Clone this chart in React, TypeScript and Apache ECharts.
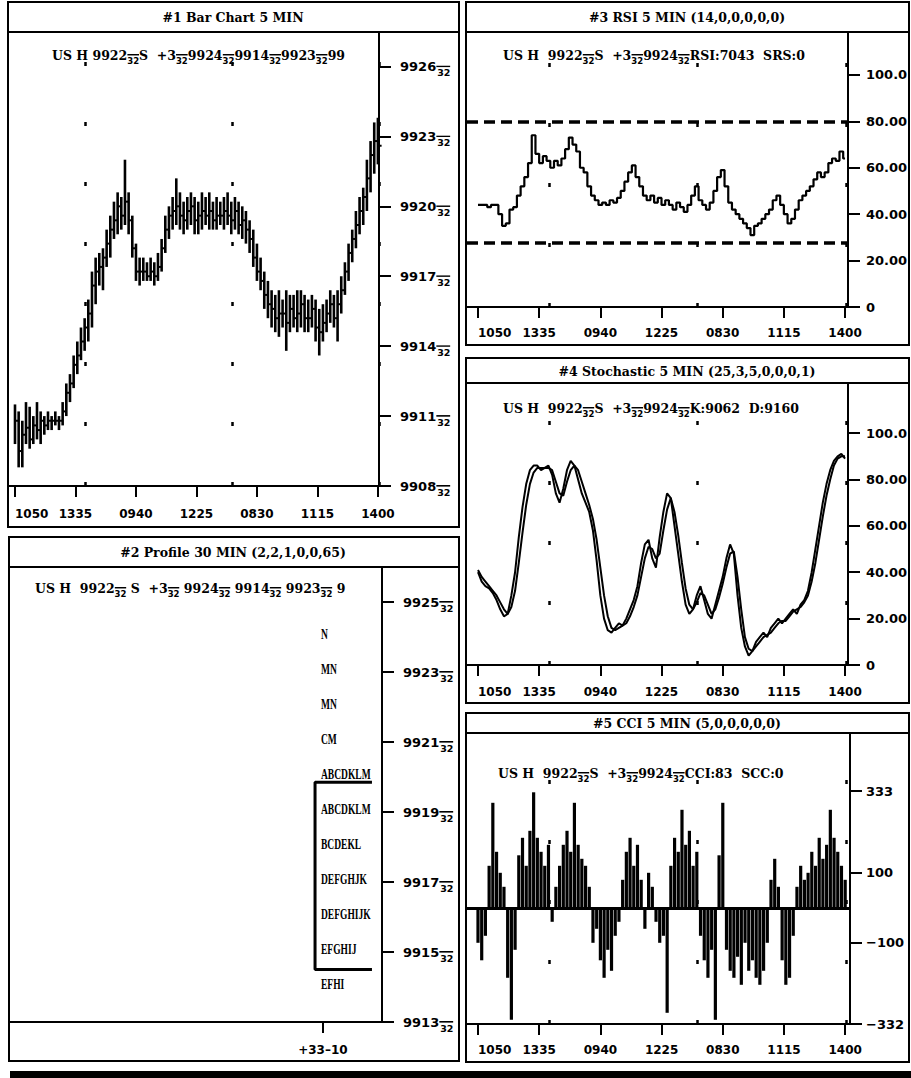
import React, { useEffect, useRef } from 'react';
import * as echarts from 'echarts';

// ---------------- data ----------------
const timeLabels = ['1050', '1335', '0940', '1225', '0830', '1115', '1400'];
const timeTicks = [0, 33, 66, 99, 132, 165, 198];
const daySeparators = [38.5, 118.5, 198.5];
const barStep = 2; // one reading per two 5-minute bars

const barHigh = [11.5,11.2,10.8,11.6,11.4,11.0,11.6,11.2,11.0,11.2, 11.0,11.2,11.0,11.6,12.4,12.8,13.6,14.2,14.8,15.2, 16.0,17.2,17.8,18.0,18.2,19.0,19.6,20.2,20.6,20.4, 22.0,20.6,19.6,18.4,17.8,17.8,17.6,17.8,17.6,18.0, 18.6,19.6,20.0,20.4,21.2,20.6,20.2,20.4,20.6,20.4, 20.2,20.6,20.4,20.6,20.2,20.4,20.2,20.4,20.6,20.2, 20.4,20.2,20.0,19.8,19.4,19.0,18.4,17.8,17.2,16.8, 16.4,16.2,16.4,16.0,16.4,16.2,16.2,16.4,16.4,16.2, 16.0,16.2,16.0,15.6,15.8,16.0,16.4,16.2,16.4,17.0, 17.6,18.4,19.0,19.8,20.4,20.8,22.0,22.8,23.6,23.8];
const barLow = [9.8,8.8,8.8,9.8,9.6,9.8,10.0,9.8,10.2,10.4, 10.4,10.6,10.4,10.6,11.0,11.6,12.2,12.8,13.4,13.8, 14.2,14.8,15.8,16.6,16.4,17.4,17.8,18.6,18.8,19.0, 19.2,18.8,17.8,16.8,16.6,16.8,16.8,16.8,16.6,16.8, 17.2,18.0,18.6,19.0,19.2,19.0,18.8,19.0,19.2,18.8, 18.8,19.0,19.2,19.0,19.0,19.0,19.2,19.0,19.2,18.8, 19.0,18.8,18.6,18.4,18.0,17.4,16.8,16.4,15.6,15.2, 14.8,14.6,14.4,14.8,13.8,14.6,14.8,14.6,14.8,14.6, 14.6,14.8,14.2,13.6,14.2,14.6,15.0,14.8,14.2,15.4, 16.2,16.8,17.6,18.2,18.8,19.2,19.8,20.6,21.4,21.8];
const barClose = [10.8,9.5,10.2,10.5,10.0,10.6,10.4,10.8,10.6,10.8, 10.8,10.8,10.8,11.2,12.0,12.4,13.2,13.6,14.2,14.8, 15.4,16.6,17.2,17.4,17.8,18.4,19.0,19.4,20.0,19.6, 20.2,19.4,18.2,17.2,17.2,17.2,17.0,17.2,17.0,17.4, 18.2,19.0,19.6,19.8,20.0,19.6,19.4,19.8,20.0,19.4, 19.6,19.8,19.6,19.8,19.4,19.6,19.6,19.8,19.6,19.4, 19.8,19.2,19.4,19.0,18.6,17.8,17.2,16.8,16.2,15.8, 15.6,15.2,15.4,15.4,15.0,15.6,15.2,15.4,15.8,15.2, 15.2,15.6,14.8,14.6,15.0,15.4,15.8,15.2,15.8,16.4, 17.2,18.0,18.6,19.2,19.8,20.4,21.2,22.2,22.8,22.6];
const priceTicks = [8, 11, 14, 17, 20, 23, 26];

const profileLevels = [24, 23, 22, 21, 20, 19, 18, 17, 16, 15, 14];
const profileLetters = ['N', 'MN', 'MN', 'CM', 'ABCDKLM', 'ABCDKLM', 'BCDEKL', 'DEFGHJK', 'DEFGHIJK', 'EFGHIJ', 'EFHI'];
const profileTicks = [13, 15, 17, 19, 21, 23, 25];
const valueAreaHigh = 19.85;
const valueAreaLow = 14.5;
const profileAxisLabel = '+33\u201310';

const rsi = [44,44,44,43,44,44,40,35,36,42, 43,48,52,56,62,74,66,62,65,63, 60,63,61,64,68,73,70,67,60,58, 52,48,46,44,45,44,46,45,47,50, 54,58,61,56,52,48,46,48,45,47, 44,46,44,42,45,43,41,44,48,52, 46,44,42,45,50,56,59,52,45,42, 40,38,36,34,31,35,36,38,40,42, 46,48,44,40,36,38,42,46,48,50, 52,55,58,56,58,62,64,63,67,64];
const rsiBands = [80, 27.5];
const oscTicks = [0, 20, 40, 60, 80, 100];
const oscTickLabels = ['0', '20.00', '40.00', '60.00', '80.00', '100.0'];

const stochK = [40,36,34,33,31,28,24,21,22,30, 40,55,68,78,84,86,86,84,85,86, 82,74,70,76,84,88,86,80,74,70, 66,58,45,30,20,15,14,16,18,17, 20,24,28,34,44,52,54,46,42,55, 66,74,72,60,48,36,26,22,24,30, 34,28,22,20,26,32,38,46,52,48, 30,16,8,4,6,10,12,14,12,16, 18,20,18,20,22,24,22,26,28,32, 40,50,60,70,78,84,88,90,91,89];
const stochD = [41,38,36,34,32,30,27,24,22,25, 32,44,57,69,78,83,85,85,85,85, 84,79,74,73,79,84,86,84,79,74, 69,63,54,42,30,21,16,15,16,17, 18,21,25,30,38,46,51,50,46,48, 58,67,72,66,56,44,33,26,24,27, 31,30,26,22,24,29,35,42,48,49, 38,24,12,7,6,8,10,12,13,14, 16,18,19,19,21,23,24,25,27,30, 36,44,54,64,73,80,86,89,90,90];

const cci = [-100,-150,-80,120,300,160,100,60,-200,-320, -120,150,200,120,220,330,200,160,120,180, -40,60,120,180,220,160,300,180,140,120, 60,-100,-60,-150,-200,-120,-180,-80,-40,80, 160,200,120,180,80,-60,100,60,-40,-100, -80,-300,120,200,160,280,180,220,120,160, -80,-150,-200,-120,-320,150,300,-120,-180,-200, -140,-220,-100,-180,-150,-200,-220,-180,-100,80, 140,60,-150,-220,-200,-80,60,120,80,100, 160,120,200,140,180,280,200,160,120,80];
const cciTicks = [-332, -100, 100, 333];
const cciTickLabels = ['\u2212332', '\u2212100', '100', '333'];

const titles = [
  '#1 Bar Chart 5 MIN',
  '#2 Profile 30 MIN (2,2,1,0,0,65)',
  '#3 RSI 5 MIN (14,0,0,0,0,0)',
  '#4 Stochastic 5 MIN (25,3,5,0,0,0,1)',
  '#5 CCI 5 MIN (5,0,0,0,0,0)',
];
const FR = '{f|32}';
const subtitles = [
  `US H 9922${FR}S  +3${FR}9924${FR}9914${FR}9923${FR}99`,
  `US H  9922${FR} S  +3${FR} 9924${FR} 9914${FR} 9923${FR} 9`,
  `US H  9922${FR}S  +3${FR}9924${FR}RSI:7043  SRS:0`,
  `US H  9922${FR}S  +3${FR}9924${FR}K:9062  D:9160`,
  `US H  9922${FR}S  +3${FR}9924${FR}CCI:83  SCC:0`,
];

// ---------------- layout ----------------
const SERIF = "'DejaVu Serif', serif";
const SANS = "'DejaVu Sans', sans-serif";
const BLACK = '#000';

// small bar drawn above the "32" of a price fraction
const FRACTION_BAR = 'data:image/svg+xml;utf8,' + encodeURIComponent(
  '<svg xmlns="http://www.w3.org/2000/svg" width="12" height="12" viewBox="0 0 12 12" preserveAspectRatio="none"><rect x="0" y="0" width="12" height="1.6" fill="#000"/></svg>'
);

const panels = [
  { x: 8, y: 2, w: 451, h: 525, sep: 32, tx: 233, ty: 17, sx: 52, sy: 55 },
  { x: 9, y: 537, w: 450, h: 524, sep: 567, tx: 233, ty: 552, sx: 35, sy: 588 },
  { x: 466, y: 2, w: 443, h: 343, sep: 32, tx: 687, ty: 17, sx: 503, sy: 55 },
  { x: 466, y: 358, w: 443, h: 345, sep: 383, tx: 687, ty: 371, sx: 503, sy: 408 },
  { x: 466, y: 713, w: 443, h: 349, sep: 733, tx: 687, ty: 723, sx: 498, sy: 773 },
];

const grids = [
  { left: 9, top: 32, width: 370, height: 454 },
  { left: 10, top: 567, width: 372, height: 455 },
  { left: 467, top: 32, width: 381, height: 275 },
  { left: 467, top: 383, width: 381, height: 282 },
  { left: 467, top: 733, width: 383, height: 291 },
];

const profileColX = 83.6;
const profileTickX = 84.1;
const vaLeftX = 82.0;
const vaRightX = 97.3;

const priceLabel = (v: number) => `{a|99${String(v).padStart(2, '0')}}${FR}`;
const labelRich = {
  a: { fontFamily: SANS, fontWeight: 'bold', fontSize: 13, color: BLACK, lineHeight: 22, verticalAlign: 'middle' },
  f: {
    fontFamily: SANS, fontWeight: 'bold', fontSize: 9.5, color: BLACK, verticalAlign: 'bottom',
    padding: [2, 0, 0, 1], backgroundColor: { image: FRACTION_BAR },
  },
};

function timeAxis(gridIndex: number, min: number, max: number, margin: number) {
  return {
    type: 'value', gridIndex, min, max, position: 'bottom',
    axisLine: { show: true, onZero: false, lineStyle: { color: BLACK, width: 2 } },
    axisTick: { show: true, customValues: timeTicks, length: 11, lineStyle: { color: BLACK, width: 2 } },
    axisLabel: {
      customValues: timeTicks, margin, color: BLACK, fontFamily: SANS, fontWeight: 'bold', fontSize: 12,
      formatter: (v: number) => timeLabels[timeTicks.indexOf(Math.round(v))] ?? '',
      alignMinLabel: 'left',
    },
    splitLine: { show: false },
  };
}

function rightAxis(gridIndex: number, min: number, max: number, ticks: number[], fmt: (v: number) => string, margin: number, rich?: any) {
  return {
    type: 'value', gridIndex, min, max, position: 'right',
    axisLine: { show: true, onZero: false, lineStyle: { color: BLACK, width: 2 } },
    axisTick: { show: true, customValues: ticks, length: 12, lineStyle: { color: BLACK, width: 2 } },
    axisLabel: {
      customValues: ticks, margin, color: BLACK, fontFamily: SANS, fontWeight: 'bold', fontSize: 13,
      formatter: fmt, rich,
    },
    splitLine: { show: false },
  };
}

const sepLine = (xs: number[]) => xs.map((x) => ({ xAxis: x, lineStyle: { type: [4, 56], width: 2.5, color: BLACK } }));

export default function App() {
  const ref = useRef<HTMLDivElement>(null);
  useEffect(() => {
    if (!ref.current) return;
    const chart = echarts.init(ref.current, undefined, { renderer: 'svg' });

    const graphics: any[] = [];
    panels.forEach((p, i) => {
      graphics.push({ type: 'rect', shape: { x: p.x, y: p.y, width: p.w, height: p.h }, style: { fill: 'none', stroke: BLACK, lineWidth: 2 }, z: 10 });
      graphics.push({ type: 'line', shape: { x1: p.x, y1: p.sep, x2: p.x + p.w, y2: p.sep }, style: { stroke: BLACK, lineWidth: 2 }, z: 10 });
      graphics.push({
        type: 'text', x: p.tx, y: p.ty, z: 10,
        style: { text: titles[i], fill: BLACK, font: `bold 12.5px ${SERIF}`, align: 'center', verticalAlign: 'middle', textAlign: 'center', textVerticalAlign: 'middle' },
      });
      graphics.push({
        type: 'text', x: p.sx, y: p.sy, z: 10,
        style: {
          text: subtitles[i], fill: BLACK, font: `bold 12.5px ${SERIF}`, lineHeight: 20,
          align: 'left', verticalAlign: 'middle', textAlign: 'left', textVerticalAlign: 'middle',
          rich: {
            f: {
              fontFamily: SANS, fontWeight: 'bold', fontSize: 8.5, fill: BLACK, verticalAlign: 'bottom',
              padding: [2, 0, 0, 0], backgroundColor: { image: FRACTION_BAR },
            },
          },
        },
      });
    });
    graphics.push({ type: 'rect', shape: { x: 10, y: 1071, width: 901, height: 7 }, style: { fill: BLACK }, z: 10 });

    const idx = (i: number) => i * barStep;

    const option: any = {
      animation: false,
      backgroundColor: '#fff',
      grid: grids.map((g) => ({ ...g, containLabel: false })),
      xAxis: [
        timeAxis(0, -3.27, 198.6, 22),
        {
          type: 'value', gridIndex: 1, min: 0, max: 100, position: 'bottom',
          axisLine: { show: true, onZero: false, lineStyle: { color: BLACK, width: 2 } },
          axisTick: { show: true, customValues: [profileTickX], length: 11, lineStyle: { color: BLACK, width: 2 } },
          axisLabel: { customValues: [profileTickX], margin: 22, color: BLACK, fontFamily: SANS, fontWeight: 'bold', fontSize: 12, formatter: () => profileAxisLabel },
          splitLine: { show: false },
        },
        timeAxis(2, -5.93, 199.6, 20),
        timeAxis(3, -5.93, 199.6, 21),
        timeAxis(4, -5.93, 200.6, 20),
      ],
      yAxis: [
        rightAxis(0, 8, 27.48, priceTicks, priceLabel, 21, labelRich),
        rightAxis(1, 13, 26, profileTicks, priceLabel, 21, labelRich),
        rightAxis(2, 0, 118.5, oscTicks, (v) => oscTickLabels[oscTicks.indexOf(Math.round(v))] ?? '', 18),
        rightAxis(3, 0, 121.6, oscTicks, (v) => oscTickLabels[oscTicks.indexOf(Math.round(v))] ?? '', 18),
        rightAxis(4, -332, 499.4, cciTicks, (v) => cciTickLabels[cciTicks.indexOf(Math.round(v))] ?? '', 16),
      ],
      series: [
        {
          type: 'custom', xAxisIndex: 0, yAxisIndex: 0,
          data: barHigh.map((h, i) => [idx(i), h, barLow[i], barClose[i]]),
          encode: { x: 0, y: [1, 2, 3] },
          renderItem: (_p: any, api: any) => {
            const x = api.value(0);
            const hi = api.coord([x, api.value(1)]);
            const lo = api.coord([x, api.value(2)]);
            const cl = api.coord([x, api.value(3)]);
            return {
              type: 'group',
              children: [
                { type: 'line', shape: { x1: hi[0], y1: hi[1], x2: lo[0], y2: lo[1] }, style: { stroke: BLACK, lineWidth: 2.6 } },
                { type: 'line', shape: { x1: cl[0], y1: cl[1], x2: cl[0] + 3.7, y2: cl[1] }, style: { stroke: BLACK, lineWidth: 2 } },
              ],
            };
          },
        },
        {
          type: 'line', xAxisIndex: 0, yAxisIndex: 0, symbol: 'none',
          data: barClose.map((c, i) => [idx(i), c]),
          lineStyle: { opacity: 0 },
          markLine: { symbol: 'none', silent: true, label: { show: false }, data: sepLine(daySeparators) },
        },
        {
          type: 'custom', xAxisIndex: 1, yAxisIndex: 1,
          data: profileLevels.map((lv) => [profileColX, lv]),
          encode: { x: 0, y: 1 },
          renderItem: (params: any, api: any) => {
            const p = api.coord([api.value(0), api.value(1)]);
            return {
              type: 'text', x: p[0], y: p[1] - 3, scaleX: 0.68,
              style: {
                text: profileLetters[params.dataIndex], fill: BLACK,
                font: "bold 14px 'Liberation Serif', serif",
                align: 'left', verticalAlign: 'middle', textAlign: 'left', textVerticalAlign: 'middle',
              },
            };
          },
        },
        {
          type: 'line', xAxisIndex: 1, yAxisIndex: 1, symbol: 'none',
          data: [[vaRightX, valueAreaHigh], [vaLeftX, valueAreaHigh], [vaLeftX, valueAreaLow], [vaRightX, valueAreaLow]],
          lineStyle: { color: BLACK, width: 3 },
        },
        {
          type: 'line', xAxisIndex: 2, yAxisIndex: 2, symbol: 'none', step: 'middle',
          data: rsi.map((v, i) => [idx(i), v]),
          lineStyle: { color: BLACK, width: 2.2 },
          markLine: {
            symbol: 'none', silent: true, label: { show: false },
            data: [
              ...rsiBands.map((b) => ({ yAxis: b, lineStyle: { type: [11, 6], width: 3.5, color: BLACK } })),
              ...sepLine(daySeparators),
            ],
          },
        },
        {
          type: 'line', xAxisIndex: 3, yAxisIndex: 3, symbol: 'none',
          data: stochK.map((v, i) => [idx(i), v]),
          lineStyle: { color: BLACK, width: 2 },
          markLine: { symbol: 'none', silent: true, label: { show: false }, data: sepLine(daySeparators) },
        },
        {
          type: 'line', xAxisIndex: 3, yAxisIndex: 3, symbol: 'none',
          data: stochD.map((v, i) => [idx(i), v]),
          lineStyle: { color: BLACK, width: 2 },
        },
        {
          type: 'bar', xAxisIndex: 4, yAxisIndex: 4, barWidth: 3.2,
          data: cci.map((v, i) => [idx(i), v]),
          itemStyle: { color: BLACK },
          markLine: {
            symbol: 'none', silent: true, label: { show: false },
            data: [{ yAxis: 0, lineStyle: { type: 'solid', width: 3, color: BLACK } }, ...sepLine(daySeparators)],
          },
        },
      ],
      graphic: { elements: graphics },
    };
    chart.setOption(option);
    return () => chart.dispose();
  }, []);

  return <div ref={ref} style={{ position: 'absolute', left: 0, top: 0, width: 911, height: 1078, background: '#fff' }} />;
}
